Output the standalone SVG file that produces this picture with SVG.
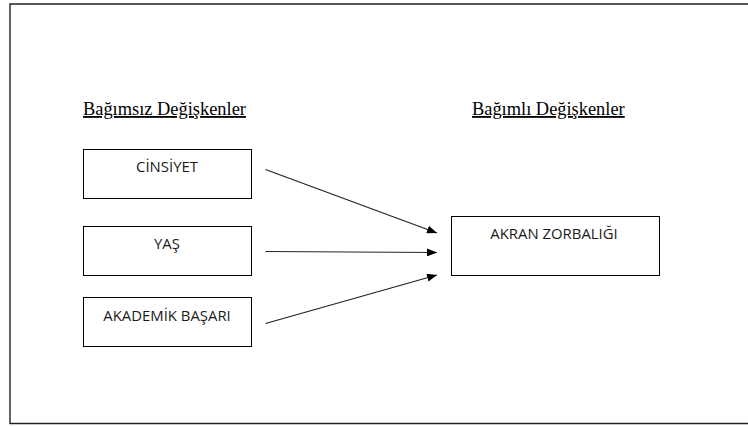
<svg xmlns="http://www.w3.org/2000/svg" width="748" height="426" viewBox="0 0 748 426">
<style>
.box{fill:#fff;stroke:#000;stroke-width:1}
.lbl{font-family:"Open Sans","Liberation Sans",sans-serif;font-size:14.9px;fill:#1a1a1a;text-anchor:middle}
.hd{font-family:"Liberation Serif",serif;font-size:18.4px;fill:#000;text-decoration:underline}
.conn{stroke:#222;stroke-width:1.2;fill:none;marker-end:url(#ah)}
</style>
<defs>
<marker id="ah" markerWidth="10" markerHeight="8" refX="10" refY="4" orient="auto" markerUnits="userSpaceOnUse">
<path d="M0,0 L10,4 L0,8 Z" fill="#000"/>
</marker>
</defs>
<rect width="748" height="426" fill="#fff"/>
<path d="M748,4 H10 V423.5 H748" fill="none" stroke="#222" stroke-width="1.4"/>
<g id="heading-left"><text class="hd" x="83" y="115">Bağımsız Değişkenler</text></g>
<g id="heading-right"><text class="hd" x="472" y="115">Bağımlı Değişkenler</text></g>
<g id="cinsiyet"><rect class="box" x="83.5" y="149.5" width="168" height="49"/><text class="lbl" x="167" y="171.5">CİNSİYET</text></g>
<g id="yas"><rect class="box" x="83.5" y="226.5" width="168" height="49"/><text class="lbl" x="167" y="249">YAŞ</text></g>
<g id="akademik"><rect class="box" x="83.5" y="297.5" width="168" height="49"/><text class="lbl" x="167" y="320.5">AKADEMİK BAŞARI</text></g>
<g id="akran"><rect class="box" x="451.5" y="216.5" width="208" height="59"/><text class="lbl" x="554" y="239">AKRAN ZORBALIĞI</text></g>
<g id="connectors">
<line class="conn" x1="265.5" y1="169.5" x2="437" y2="233"/>
<line class="conn" x1="265.5" y1="251.5" x2="437" y2="252.5"/>
<line class="conn" x1="265.5" y1="323.5" x2="437" y2="275"/>
</g>
</svg>
